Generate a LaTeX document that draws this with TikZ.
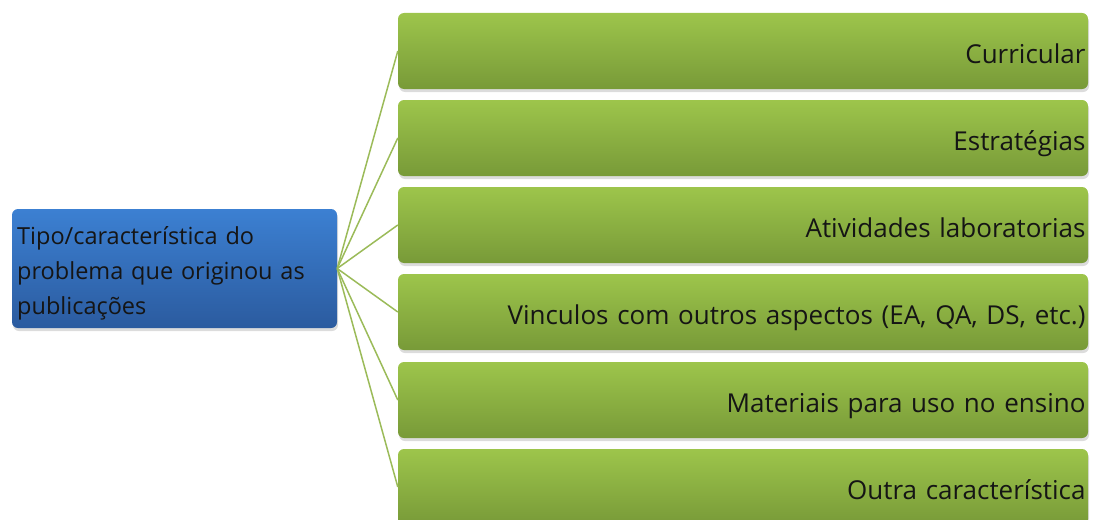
\documentclass[tikz,border=0pt]{standalone}
\usepackage{fontspec}
\setmainfont{Open Sans}
\usetikzlibrary{shadows}
\definecolor{gtop}{HTML}{9DC54B}
\definecolor{gbot}{HTML}{789A38}
\definecolor{btop}{HTML}{3C80D2}
\definecolor{bbot}{HTML}{2B5B9F}
\definecolor{linkc}{HTML}{9BBB59}
\definecolor{txt}{HTML}{151515}
\begin{document}
\begin{tikzpicture}[x=1pt,y=-1pt,
  boxshadow/.style={drop shadow={opacity=0.28, shadow xshift=1pt, shadow yshift=-3pt}},
  leaf/.style={rectangle, rounded corners=6pt, top color=gtop, bottom color=gbot,
    minimum width=690pt, minimum height=76pt, text width=685pt, inner xsep=2pt,
    text height=25pt, text depth=0pt,
    align=right, font=\fontsize{26}{31}\selectfont, text=txt, boxshadow},
  root/.style={rectangle, rounded corners=6pt, top color=btop, bottom color=bbot,
    minimum width=325pt, minimum height=119pt, boxshadow},
  roottext/.style={anchor=north west, inner sep=0pt, text width=320pt, align=left,
    font=\fontsize{23.5}{35}\selectfont, text=txt},
  conn/.style={draw=linkc, line width=1.5pt}]
\useasboundingbox (0,0) rectangle (1094,519);
\node[root] (r) at (174.5,268.5) {};
\node[roottext] (rt) at (17,226) {Tipo/característica do\\problema que originou as\\publicações};
\coordinate (hub) at (r.east);
\node[leaf] (l1) at (743,51) {Curricular};
\node[leaf] (l2) at (743,138) {Estratégias};
\node[leaf] (l3) at (743,225) {Atividades laboratorias};
\node[leaf] (l4) at (743,312) {Vinculos com outros aspectos (EA, QA, DS, etc.)};
\node[leaf] (l5) at (743,400) {Materiais para uso no ensino};
\node[leaf] (l6) at (743,487) {Outra característica};
\foreach \n in {l1,l2,l3,l4,l5,l6}{\draw[conn] (hub) -- (\n.west);}
\end{tikzpicture}
\end{document}
